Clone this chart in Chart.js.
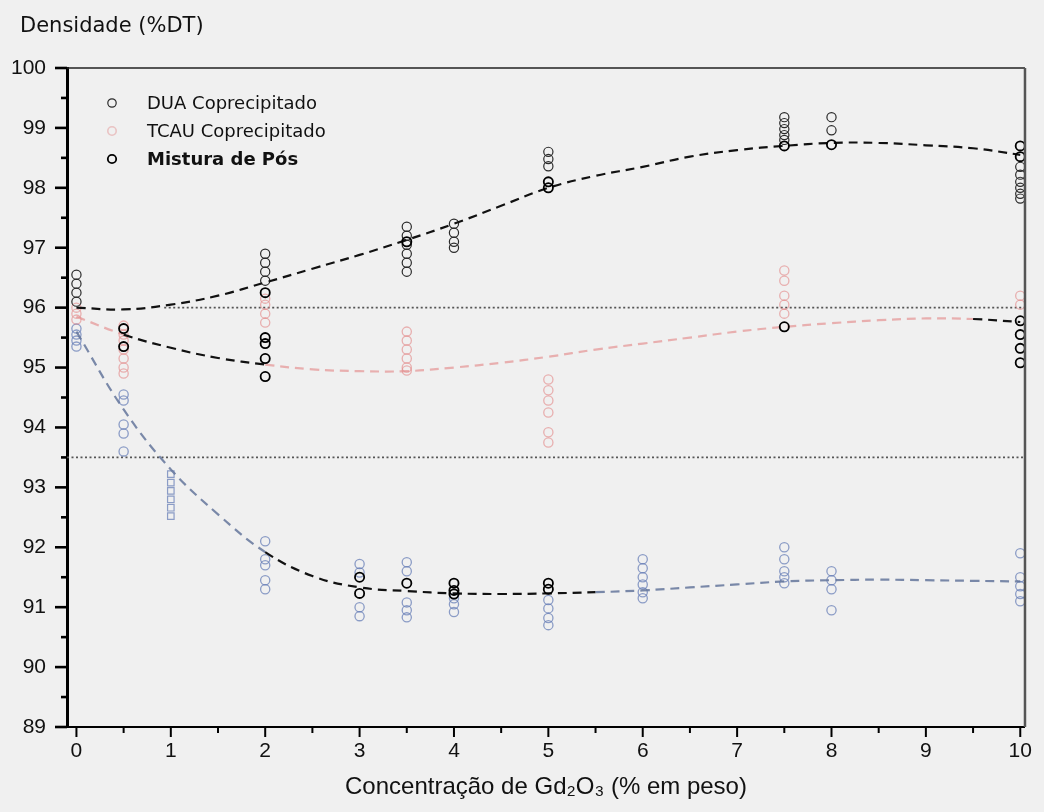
<!DOCTYPE html>
<html>
<head>
<meta charset="utf-8">
<script src="https://cdn.jsdelivr.net/npm/chart.js@4.4.1/dist/chart.umd.min.js"></script>
<style>
  html, body { margin: 0; padding: 0; background: #f0f0f0; }
  canvas { display: block; }
</style>
</head>
<body>
<canvas id="grafico" width="1044" height="812"></canvas>
<script>
// eixos
const xTicks = [0, 1, 2, 3, 4, 5, 6, 7, 8, 9, 10];
const yTicks = [89, 90, 91, 92, 93, 94, 95, 96, 97, 98, 99, 100];
const tituloY = 'Densidade (%DT)';
const tituloX = 'Concentração de Gd₂O₃ (% em peso)';

// curvas ajustadas (tracejadas)
const curvaX = [0, 0.5, 1, 1.5, 2, 2.5, 3, 3.5, 4, 4.5, 5, 5.5, 6, 6.5, 7, 7.5, 8, 8.5, 9, 9.5, 10];
const curvaDUA = [96.0, 95.97, 96.05, 96.2, 96.42, 96.65, 96.88, 97.13, 97.4, 97.7, 98.0, 98.2, 98.35, 98.52, 98.63, 98.7, 98.75, 98.75, 98.71, 98.66, 98.55];
const curvaTCAU = [95.85, 95.55, 95.33, 95.16, 95.05, 94.97, 94.94, 94.94, 95.0, 95.08, 95.18, 95.3, 95.4, 95.5, 95.6, 95.68, 95.74, 95.79, 95.82, 95.81, 95.76];
const curvaMistura = [95.6, 94.3, 93.3, 92.55, 91.92, 91.52, 91.33, 91.27, 91.23, 91.22, 91.23, 91.25, 91.28, 91.33, 91.38, 91.43, 91.45, 91.46, 91.45, 91.44, 91.43];

// linhas de referencia pontilhadas
const refY = [96, 93.5];
const refInicio = [0.93, -0.1];
const refFim = [10.05, 10.05];

// DUA coprecipitado
const duaX = [0, 0, 0, 0, 2, 2, 2, 2, 3.5, 3.5, 3.5, 3.5, 3.5, 3.5, 4, 4, 4, 4, 5, 5, 5, 7.5, 7.5, 7.5, 7.5, 7.5, 8, 8, 10, 10, 10, 10, 10, 10];
const duaY = [96.55, 96.4, 96.25, 96.1, 96.9, 96.75, 96.6, 96.45, 97.35, 97.2, 97.05, 96.9, 96.75, 96.6, 97.4, 97.25, 97.1, 97.0, 98.6, 98.48, 98.36, 99.18, 99.08, 98.98, 98.88, 98.8, 99.18, 98.96, 98.35, 98.22, 98.1, 98.0, 97.9, 97.82];

// TCAU coprecipitado
const tcauX = [0, 0, 0, 0.5, 0.5, 0.5, 0.5, 0.5, 0.5, 0.5, 2, 2, 2, 2, 3.5, 3.5, 3.5, 3.5, 3.5, 3.5, 5, 5, 5, 5, 5, 5, 7.5, 7.5, 7.5, 7.5, 7.5, 10, 10];
const tcauY = [96.0, 95.9, 95.8, 95.7, 95.55, 95.45, 95.3, 95.15, 95.0, 94.9, 96.15, 96.05, 95.9, 95.75, 95.6, 95.45, 95.3, 95.15, 95.0, 94.95, 94.8, 94.62, 94.45, 94.25, 93.92, 93.75, 96.62, 96.45, 96.2, 96.05, 95.9, 96.2, 96.05];

// mistura de pos (circulos em negrito)
const misturaX = [0.5, 0.5, 2, 2, 2, 2, 2, 3, 3, 3.5, 3.5, 4, 4, 4, 5, 5, 5, 5, 7.5, 7.5, 8, 10, 10, 10, 10, 10, 10];
const misturaY = [95.65, 95.35, 96.25, 95.5, 95.4, 95.15, 94.85, 91.5, 91.23, 97.1, 91.4, 91.4, 91.28, 91.22, 98.1, 98.0, 91.4, 91.3, 98.7, 95.68, 98.72, 98.7, 98.52, 95.78, 95.55, 95.32, 95.08];

// serie azul
const azulX = [0, 0, 0, 0, 0.5, 0.5, 0.5, 0.5, 0.5, 2, 2, 2, 2, 2, 3, 3, 3, 3, 3.5, 3.5, 3.5, 3.5, 3.5, 4, 4, 4, 5, 5, 5, 5, 6, 6, 6, 6, 6, 6, 7.5, 7.5, 7.5, 7.5, 7.5, 8, 8, 8, 8, 10, 10, 10, 10, 10];
const azulY = [95.65, 95.55, 95.45, 95.35, 94.55, 94.45, 94.05, 93.9, 93.6, 92.1, 91.8, 91.7, 91.45, 91.3, 91.72, 91.58, 91.0, 90.85, 91.75, 91.6, 91.08, 90.95, 90.83, 91.15, 91.05, 90.92, 91.12, 90.98, 90.82, 90.7, 91.8, 91.65, 91.5, 91.38, 91.25, 91.15, 92.0, 91.8, 91.6, 91.5, 91.4, 91.6, 91.45, 91.3, 90.95, 91.9, 91.5, 91.35, 91.22, 91.1];
const quadX = [1, 1, 1, 1, 1, 1];
const quadY = [93.22, 93.08, 92.94, 92.8, 92.66, 92.52];

const legendas = ['DUA Coprecipitado', 'TCAU Coprecipitado', 'Mistura de Pós'];

const PRETO = '#111111';
const ROSA = 'rgba(228,140,140,0.65)';
const AZUL = 'rgba(95,120,180,0.7)';
const CINZA_AZUL = 'rgba(100,118,155,0.85)';

const pares = (xs, ys) => xs.map((x, i) => ({ x: x, y: ys[i] }));

function curva(ys, corBase, trechoEscuro) {
  return {
    data: pares(curvaX, ys),
    showLine: true,
    pointRadius: 0,
    borderWidth: 2.2,
    borderDash: [9, 6],
    borderColor: corBase,
    tension: 0.4,
    order: 1,
    segment: {
      borderColor: c => trechoEscuro(c.p0.parsed.x, c.p1.parsed.x) ? PRETO : corBase
    }
  };
}

function pontos(xs, ys, cor, largura, estilo, ordem) {
  return {
    data: pares(xs, ys),
    showLine: false,
    pointStyle: estilo,
    pointRadius: 4.6,
    pointBorderWidth: largura,
    pointBorderColor: cor,
    pointBackgroundColor: 'rgba(0,0,0,0)',
    pointHoverRadius: 4.6,
    order: ordem
  };
}

const datasets = [
  pontos(misturaX, misturaY, '#000000', 1.8, 'circle', 0),
  curva(curvaDUA, PRETO, () => true),
  curva(curvaTCAU, ROSA, (a, b) => (a >= 0.5 && b <= 2) || a >= 9.5),
  curva(curvaMistura, CINZA_AZUL, (a, b) => a >= 2 && b <= 5.5),
  pontos(duaX, duaY, '#2a2a2a', 1.2, 'circle', 2),
  pontos(tcauX, tcauY, ROSA, 1.3, 'circle', 3),
  pontos(azulX, azulY, AZUL, 1.3, 'circle', 3),
  pontos(quadX, quadY, AZUL, 1.2, 'rect', 3)
];

refY.forEach((v, i) => {
  datasets.push({
    data: [{ x: refInicio[i], y: v }, { x: refFim[i], y: v }],
    showLine: true,
    pointRadius: 0,
    borderWidth: 1.6,
    borderDash: [2, 2.5],
    borderColor: '#555555',
    order: 4
  });
});

// marcadores de legenda: DUA, TCAU, Mistura
const legendaCor = ['#2a2a2a', 'rgba(228,150,150,0.5)', '#000000'];
const legendaLargura = [1.2, 1.6, 1.8];

// titulo do eixo y (horizontal, no alto) e legenda dentro da area do grafico
const textos = {
  id: 'textos',
  afterDatasetsDraw(chart) {
    const { ctx, chartArea } = chart;
    ctx.save();
    ctx.fillStyle = '#111';
    ctx.textBaseline = 'middle';
    ctx.font = '21px "DejaVu Sans", sans-serif';
    ctx.fillText(tituloY, 20, 27);

    const x0 = chartArea.left + 45;
    const y0 = chartArea.top + 35;
    legendas.forEach((txt, i) => {
      const y = y0 + i * 28;
      ctx.beginPath();
      ctx.arc(x0, y, 4.2, 0, Math.PI * 2);
      ctx.lineWidth = legendaLargura[i];
      ctx.strokeStyle = legendaCor[i];
      ctx.stroke();
      ctx.fillStyle = '#111';
      ctx.font = (i === 2 ? '600 ' : '') + '18px "DejaVu Sans", sans-serif';
      ctx.fillText(txt, x0 + 35, y + 1);
    });
    ctx.restore();
  }
};

// marcas dos eixos (principais e secundarias) e moldura
const marcasEixos = {
  id: 'marcasEixos',
  afterDraw(chart) {
    const { ctx, chartArea: a, scales } = chart;
    const sx = scales.x, sy = scales.y;
    ctx.save();
    ctx.strokeStyle = '#000';
    ctx.lineWidth = 2.6;
    yTicks.forEach((t, i) => {
      let p = sy.getPixelForValue(t);
      ctx.beginPath(); ctx.moveTo(a.left - 12, p); ctx.lineTo(a.left, p); ctx.stroke();
      if (i < yTicks.length - 1) {
        p = sy.getPixelForValue(t + 0.5);
        ctx.beginPath(); ctx.moveTo(a.left - 6, p); ctx.lineTo(a.left, p); ctx.stroke();
      }
    });
    ctx.lineWidth = 2;
    xTicks.forEach((t, i) => {
      let p = sx.getPixelForValue(t);
      ctx.beginPath(); ctx.moveTo(p, a.bottom); ctx.lineTo(p, a.bottom + 10); ctx.stroke();
      if (i < xTicks.length - 1) {
        p = sx.getPixelForValue(t + 0.5);
        ctx.beginPath(); ctx.moveTo(p, a.bottom); ctx.lineTo(p, a.bottom + 6); ctx.stroke();
      }
    });
    ctx.strokeStyle = '#222';
    ctx.lineWidth = 1.5;
    ctx.beginPath(); ctx.moveTo(a.left, a.top); ctx.lineTo(a.right, a.top); ctx.stroke();
    ctx.strokeStyle = '#555';
    ctx.lineWidth = 2.5;
    ctx.beginPath(); ctx.moveTo(a.right, a.top); ctx.lineTo(a.right, a.bottom); ctx.stroke();
    ctx.restore();
  }
};

const fonteNum = { family: '"Liberation Sans", Arial, sans-serif', size: 21 };

new Chart(document.getElementById('grafico'), {
  type: 'scatter',
  data: { datasets: datasets },
  options: {
    responsive: false,
    animation: false,
    devicePixelRatio: 1,
    layout: { padding: { left: 0, right: 12, top: 68, bottom: 0 } },
    plugins: {
      legend: { display: false },
      tooltip: { enabled: false },
      title: { display: false }
    },
    scales: {
      x: {
        type: 'linear',
        min: -0.1,
        max: 10.05,
        afterBuildTicks: s => { s.ticks = xTicks.map(v => ({ value: v })); },
        afterFit: s => { s.height = 85; },
        ticks: { color: '#111', font: fonteNum, padding: 12 },
        grid: { drawOnChartArea: false, drawTicks: false },
        border: { color: '#000', width: 2 },
        title: {
          display: true,
          text: tituloX,
          color: '#111',
          font: { family: '"Liberation Sans", Arial, sans-serif', size: 24 },
          padding: { top: 0, bottom: 10 }
        }
      },
      y: {
        type: 'linear',
        min: 89,
        max: 100,
        afterBuildTicks: s => { s.ticks = yTicks.map(v => ({ value: v })); },
        afterFit: s => { s.width = 67; },
        ticks: { color: '#111', font: fonteNum, padding: 21 },
        grid: { drawOnChartArea: false, drawTicks: false },
        border: { color: '#000', width: 3 }
      }
    }
  },
  plugins: [textos, marcasEixos]
});
</script>
</body>
</html>
